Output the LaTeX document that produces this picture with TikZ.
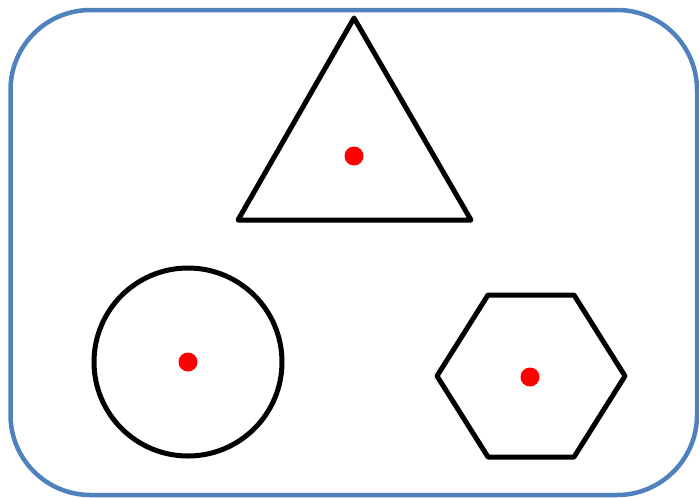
\documentclass[tikz,border=0pt]{standalone}
\definecolor{frameblue}{HTML}{4F81BD}
\definecolor{dotred}{HTML}{FF0000}
\tikzset{
  frame/.style={draw=frameblue, line width=4.5pt, rounded corners=80pt},
  shapeline/.style={draw=black, line width=5pt, line join=round},
  centerdot/.style={fill=dotred}
}
\begin{document}
\begin{tikzpicture}[x=1pt,y=-1pt]
\useasboundingbox (0,0) rectangle (699,498);
\draw[frame] (10.5,10) rectangle (697,495);
% triangle
\draw[shapeline] (354,18) -- (471,220) -- (238,220) -- cycle;
\fill[centerdot] (354,156) circle (9.5);
% circle
\draw[shapeline] (188,362) circle (94);
\fill[centerdot] (188,362) circle (9.5);
% hexagon
\draw[shapeline] (437,376) -- (488,295) -- (574,295) -- (625,376) -- (574,457) -- (488,457) -- cycle;
\fill[centerdot] (530,377) circle (9.5);
\end{tikzpicture}
\end{document}
